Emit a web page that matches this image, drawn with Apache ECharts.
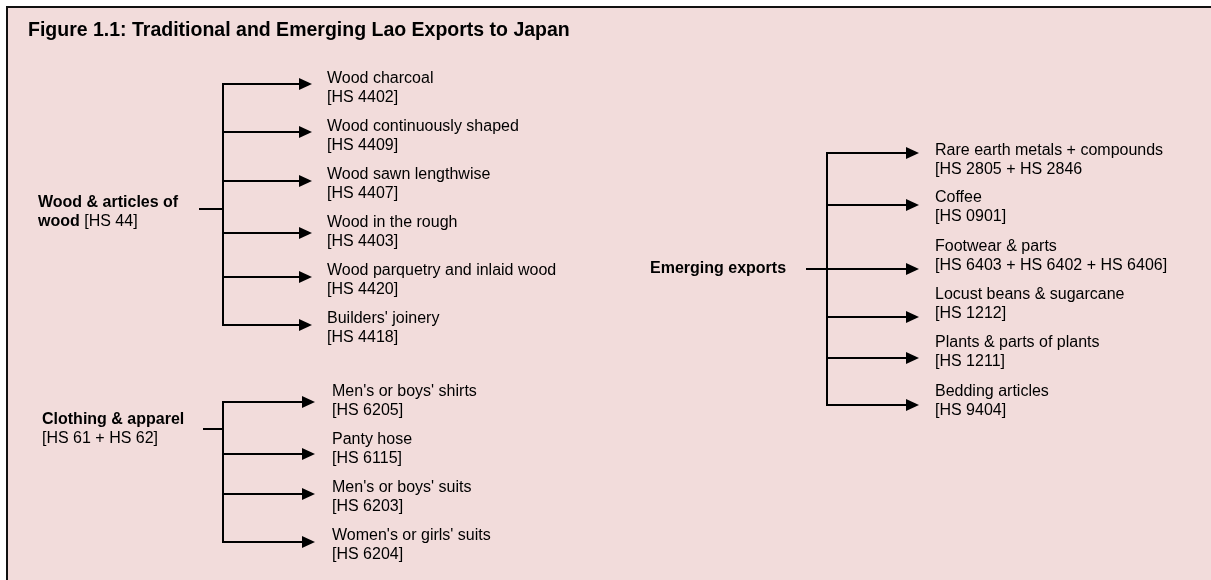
<!DOCTYPE html>
<html>
<head>
<meta charset="utf-8">
<title>Figure 1.1: Traditional and Emerging Lao Exports to Japan</title>
<script src="https://cdn.jsdelivr.net/npm/echarts@6/dist/echarts.min.js"></script>
<style>
    html, body { margin: 0; padding: 0; background: #ffffff; }
    #main { width: 1211px; height: 580px; }
</style>
</head>
<body>
<div id="main"></div>
<script>
    // diagram text
    var titleText = 'Figure 1.1: Traditional and Emerging Lao Exports to Japan';
    var groupNames = ['Wood & articles of', 'Clothing & apparel', 'Emerging exports'];
    var groupSubBold = ['wood', '', ''];
    var groupSubText = [' [HS 44]', '[HS 61 + HS 62]', ''];

    var woodNames = ['Wood charcoal', 'Wood continuously shaped', 'Wood sawn lengthwise',
        'Wood in the rough', 'Wood parquetry and inlaid wood', "Builders' joinery"];
    var woodCodes = ['[HS 4402]', '[HS 4409]', '[HS 4407]', '[HS 4403]', '[HS 4420]', '[HS 4418]'];

    var clothNames = ["Men's or boys' shirts", 'Panty hose', "Men's or boys' suits", "Women's or girls' suits"];
    var clothCodes = ['[HS 6205]', '[HS 6115]', '[HS 6203]', '[HS 6204]'];

    var emergNames = ['Rare earth metals + compounds', 'Coffee', 'Footwear & parts',
        'Locust beans & sugarcane', 'Plants & parts of plants', 'Bedding articles'];
    var emergCodes = ['[HS 2805 + HS 2846', '[HS 0901]', '[HS 6403 + HS 6402 + HS 6406]',
        '[HS 1212]', '[HS 1211]', '[HS 9404]'];

    var itemNames = [woodNames, clothNames, emergNames];
    var itemCodes = [woodCodes, clothCodes, emergCodes];

    // layout of each bracket (pixel space of the hidden axes)
    var layout = [
        {labelX: 38, labelY: 203, stubX: 199, stubY: 209, trunkX: 223, tipX: 312, textX: 327,
            arrowY: [84, 132, 181, 233, 277, 325], textY: [79, 127, 175, 223, 271, 319]},
        {labelX: 42, labelY: 420, stubX: 203, stubY: 429, trunkX: 223, tipX: 315, textX: 332,
            arrowY: [402, 454, 494, 542], textY: [392, 440, 488, 536]},
        {labelX: 650, labelY: 269, stubX: 806, stubY: 269, trunkX: 827, tipX: 919, textX: 935,
            arrowY: [153, 205, 269, 317, 358, 405], textY: [151, 198, 247, 295, 343, 392]}
    ];
    var lineGap = 19;
    var headLen = 13, headHalf = 6;
    var FONT = '"Liberation Sans", Arial, sans-serif';

    var groupData = [], arrowData = [];
    for (var g = 0; g < groupNames.length; g++) {
        groupData.push([g, 0]);
        for (var c = 0; c < itemNames[g].length; c++) {
            arrowData.push([g, c]);
        }
    }

    var myChart = echarts.init(document.getElementById('main'));

    function renderGroup(params, api) {
        var L = layout[api.value(0)];
        var gi = api.value(0);
        var top = api.coord([L.trunkX, L.arrowY[0]]);
        var bottom = api.coord([L.trunkX, L.arrowY[L.arrowY.length - 1]]);
        var s0 = api.coord([L.stubX, L.stubY]);
        var s1 = api.coord([L.trunkX, L.stubY]);
        var lab = api.coord([L.labelX, L.labelY]);
        var children = [
            {type: 'line', shape: {x1: top[0], y1: top[1], x2: bottom[0], y2: bottom[1]},
                style: {stroke: '#000', lineWidth: 2}},
            {type: 'line', shape: {x1: s0[0], y1: s0[1], x2: s1[0], y2: s1[1]},
                style: {stroke: '#000', lineWidth: 2}},
            {type: 'text', style: {x: lab[0], y: lab[1], text: groupNames[gi], fill: '#000',
                fontSize: 16, fontWeight: 'bold', fontFamily: FONT, align: 'left', verticalAlign: 'middle'}}
        ];
        if (groupSubBold[gi] || groupSubText[gi]) {
            var txt = (groupSubBold[gi] ? '{b|' + groupSubBold[gi] + '}' : '') + groupSubText[gi];
            children.push({type: 'text', style: {x: lab[0], y: lab[1] + lineGap, text: txt, fill: '#000',
                fontSize: 16, fontFamily: FONT, align: 'left', verticalAlign: 'middle',
                rich: {b: {fontSize: 16, fontFamily: FONT, fontWeight: 'bold', fill: '#000'}}}});
        }
        return {type: 'group', children: children};
    }

    function renderArrow(params, api) {
        var gi = api.value(0), ci = api.value(1);
        var L = layout[gi];
        var y = L.arrowY[ci];
        var p0 = api.coord([L.trunkX - 1, y]);
        var p1 = api.coord([L.tipX - headLen + 1, y]);
        var tip = api.coord([L.tipX, y]);
        var hA = api.coord([L.tipX - headLen, y - headHalf]);
        var hB = api.coord([L.tipX - headLen, y + headHalf]);
        var t1 = api.coord([L.textX, L.textY[ci]]);
        return {
            type: 'group',
            children: [
                {type: 'line', shape: {x1: p0[0], y1: p0[1], x2: p1[0], y2: p1[1]},
                    style: {stroke: '#000', lineWidth: 2}},
                {type: 'polygon', shape: {points: [hA, tip, hB]}, style: {fill: '#000'}},
                {type: 'text', style: {x: t1[0], y: t1[1], text: itemNames[gi][ci], fill: '#000',
                    fontSize: 16, fontFamily: FONT, align: 'left', verticalAlign: 'middle'}},
                {type: 'text', style: {x: t1[0], y: t1[1] + lineGap, text: itemCodes[gi][ci], fill: '#000',
                    fontSize: 16, fontFamily: FONT, align: 'left', verticalAlign: 'middle'}}
            ]
        };
    }

    var option = {
        animation: false,
        backgroundColor: '#ffffff',
        title: {
            text: titleText,
            left: 28,
            top: 21,
            padding: 0,
            textStyle: {fontSize: 19.5, fontWeight: 'bold', color: '#000', fontFamily: FONT}
        },
        graphic: [
            {type: 'rect', left: 6, top: 6, z: -10,
                shape: {width: 1240, height: 600},
                style: {fill: '#f2dcdb', stroke: '#111', lineWidth: 2}}
        ],
        grid: {left: 0, right: 0, top: 0, bottom: 0},
        xAxis: {type: 'value', min: 0, max: 1211, show: false},
        yAxis: {type: 'value', min: 0, max: 580, inverse: true, show: false},
        series: [
            {type: 'custom', name: 'groups', renderItem: renderGroup, data: groupData, silent: true},
            {type: 'custom', name: 'arrows', renderItem: renderArrow, data: arrowData, silent: true}
        ]
    };

    myChart.setOption(option);
</script>
</body>
</html>
